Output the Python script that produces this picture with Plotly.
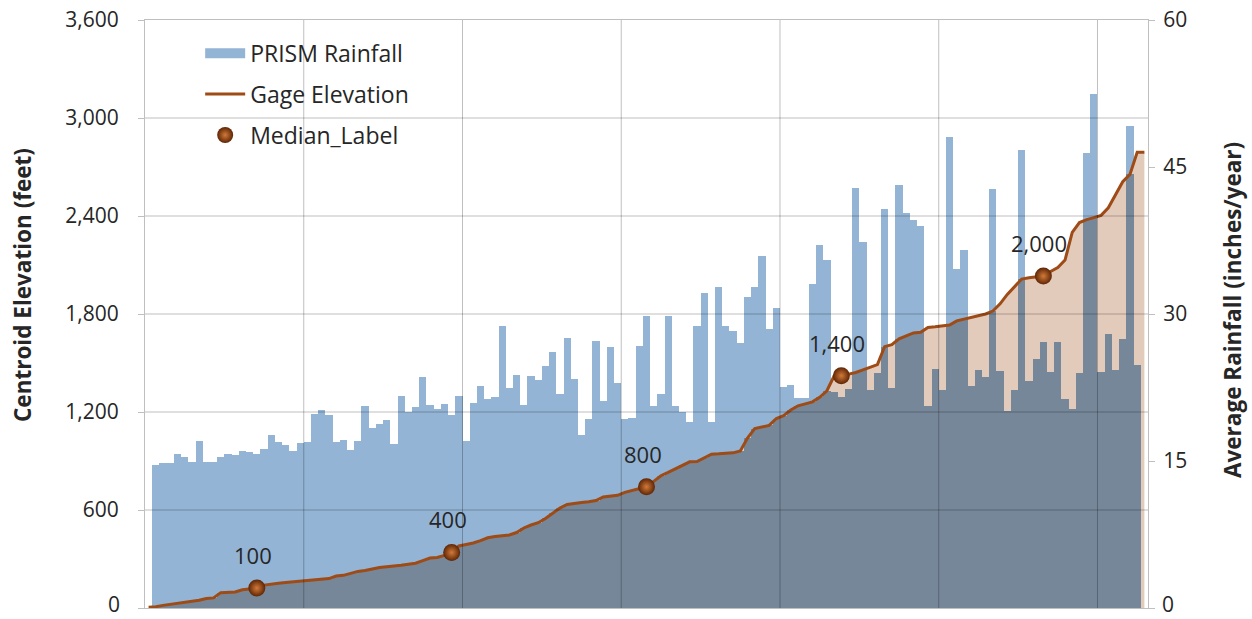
import plotly.graph_objects as go

# ---------------- data ----------------
RAIN = [None, 14.6, 14.8, 14.8, 15.7, 15.4, 14.9, 17.0, 14.9, 14.9, 15.4,
        15.7, 15.6, 16.0, 15.9, 15.7, 16.2, 17.7, 16.9, 16.6, 16.0,
        16.8, 16.9, 19.8, 20.2, 19.7, 16.9, 17.1, 16.1, 17.0, 20.6,
        18.4, 18.8, 19.2, 16.7, 21.6, 20.0, 20.5, 23.6, 20.7, 20.3,
        20.8, 19.7, 21.6, 17.0, 20.9, 22.7, 21.3, 21.5, 28.8, 22.4,
        23.8, 20.7, 23.7, 23.3, 24.7, 26.1, 21.8, 27.6, 23.4, 17.7,
        19.3, 27.2, 21.1, 26.6, 23.0, 19.3, 19.4, 26.7, 29.8, 20.6,
        21.8, 29.8, 20.6, 20.0, 19.0, 28.8, 32.1, 19.0, 32.8, 28.8,
        28.3, 27.0, 31.7, 32.8, 35.9, 28.5, 30.6, 22.6, 22.8, 21.4,
        21.4, 33.1, 37.0, 35.5, 22.0, 21.5, 22.3, 42.9, 37.3, 22.2,
        24.0, 40.7, 22.4, 43.2, 40.3, 39.6, 39.0, 20.6, 24.4, 22.2,
        48.1, 34.6, 36.5, 22.7, 24.3, 23.6, 42.8, 24.2, 20.1, 22.2,
        46.7, 23.2, 25.4, 27.1, 24.1, 27.1, 21.3, 20.3, 24.0, 46.4,
        52.5, 24.1, 28.0, 24.3, 27.4, 49.2, 24.8, None]

ELEV = [5, 8, 16, 22, 28, 36, 42, 48, 58, 62,
        94, 96, 98, 112, 116, 122, 140, 148, 152, 156,
        160, 165, 172, 176, 178, 180, 196, 200, 212, 224,
        230, 240, 248, 253, 256, 262, 268, 274, 290, 306,
        309, 322, 340, 380, 389, 398, 412, 430, 438, 442,
        447, 462, 490, 508, 522, 548, 582, 612, 634, 642,
        646, 650, 658, 680, 684, 690, 708, 720, 732, 742,
        775, 810, 830, 852, 878, 895, 897, 920, 942, 944,
        946, 950, 962, 1040, 1098, 1108, 1118, 1160, 1178, 1212,
        1238, 1250, 1262, 1290, 1330, 1420, 1422, 1432, 1442, 1458,
        1472, 1490, 1600, 1612, 1648, 1668, 1684, 1688, 1718, 1722,
        1726, 1732, 1758, 1768, 1776, 1786, 1800, 1818, 1862, 1920,
        1965, 2014, 2022, 2026, 2032, 2060, 2085, 2130, 2300, 2360,
        2378, 2390, 2404, 2450, 2530, 2610, 2655, 2790, 2790]

MEDIAN_CATS = [15, 42, 69, 96, 124]
MEDIAN_TEXT = ["100", "400", "800", "1,400", "2,000"]

ELEV_TICKS = [0, 600, 1200, 1800, 2400, 3000, 3600]
RAIN_TICKS = [0, 15, 30, 45, 60]
GRID_EVERY = 22

# ---------------- style ----------------
FONT = "Open Sans"
TXT = "#262626"
BLUE = "#93B4D4"
SLATE = "#76879A"
TAN = "#E3CBBC"
BROWN = "#9E4B16"
AXC = "#BFBFBF"
GRIDC = "rgba(0,0,0,0.25)"

N = len(RAIN)
CATS = list(range(N))
RAIN_MAX = RAIN_TICKS[-1]
ELEV_MAX = ELEV_TICKS[-1]
RATIO = ELEV_MAX / RAIN_MAX

# part of each rainfall bar lying under the elevation area
under = [None if r is None else min(r, e / RATIO) for r, e in zip(RAIN, ELEV)]

fig = go.Figure()
# legend-only entry giving the wide rectangular swatch of the original
fig.add_trace(go.Scatter(x=[None], y=[None], mode="lines", name="PRISM Rainfall",
                         line=dict(color=BLUE, width=11), yaxis="y",
                         legendgroup="a", hoverinfo="skip"))
fig.add_trace(go.Bar(x=CATS, y=RAIN, width=1, name="PRISM Rainfall",
                     marker=dict(color=BLUE, line=dict(width=0)),
                     yaxis="y", legendgroup="a", showlegend=False,
                     hoverinfo="skip"))
fig.add_trace(go.Scatter(x=CATS, y=ELEV, mode="none", fill="tozeroy",
                         fillcolor=TAN, yaxis="y2", showlegend=False,
                         hoverinfo="skip"))
fig.add_trace(go.Bar(x=CATS, y=under, width=1, showlegend=False,
                     marker=dict(color=SLATE, line=dict(width=0)),
                     yaxis="y3", hoverinfo="skip"))
fig.add_trace(go.Scatter(x=CATS, y=ELEV, mode="lines", name="Gage Elevation",
                         line=dict(color=BROWN, width=3),
                         yaxis="y4", legendgroup="b", hoverinfo="skip"))
fig.add_trace(go.Scatter(x=MEDIAN_CATS, y=[ELEV[c] for c in MEDIAN_CATS],
                         mode="markers", name="Median_Label",
                         marker=dict(size=17, color="#5E2504",
                                     gradient=dict(type="radial", color="#D27A3A"),
                                     line=dict(width=0)),
                         yaxis="y4", legendgroup="c", hoverinfo="skip"))

for c, t in zip(MEDIAN_CATS, MEDIAN_TEXT):
    fig.add_annotation(x=c, y=ELEV[c], xref="x", yref="y4", text=t,
                       showarrow=False, yshift=33, xshift=-4,
                       font=dict(family=FONT, size=22, color=TXT))

# gridlines drawn over the fills (they show through in the original)
for v in ELEV_TICKS[1:-1]:
    fig.add_shape(type="line", xref="paper", x0=0, x1=1, yref="y2", y0=v, y1=v,
                  line=dict(color=GRIDC, width=1), layer="above")
k = 1
while -0.5 + GRID_EVERY * k < N - 0.5:
    xv = -0.5 + GRID_EVERY * k
    fig.add_shape(type="line", xref="x", x0=xv, x1=xv, yref="paper", y0=0, y1=1,
                  line=dict(color=GRIDC, width=1), layer="above")
    k += 1

tickfont = dict(family=FONT, size=21, color=TXT)
elev_text = ["" if v == 0 else f"{v:,}" for v in ELEV_TICKS]
rain_text = ["" if v == 0 else f"{v}" for v in RAIN_TICKS]

# the two bottom "0" labels, nudged up a little so they stay inside the page
zero_labels = [
    dict(text=f"{ELEV_TICKS[0]}", xref="paper", yref="y2", x=0, y=ELEV_TICKS[0],
         xanchor="right", yanchor="middle", xshift=-23, yshift=4, showarrow=False,
         font=tickfont),
    dict(text=f"{RAIN_TICKS[0]}", xref="paper", yref="y", x=1, y=RAIN_TICKS[0],
         xanchor="left", yanchor="middle", xshift=12, yshift=4, showarrow=False,
         font=tickfont),
]

fig.update_layout(
    width=1252, height=619,
    margin=dict(l=145, r=104, t=20, b=11, autoexpand=False),
    plot_bgcolor="white", paper_bgcolor="white",
    bargap=0, barmode="overlay",
    showlegend=True,
    xaxis=dict(range=[-0.5, N - 0.5], showticklabels=False, showgrid=False,
               zeroline=False, showline=True, linecolor=AXC, linewidth=1,
               mirror=True, ticks="", automargin=False),
    yaxis=dict(side="right", range=[0, RAIN_MAX], tickvals=RAIN_TICKS,
               ticktext=rain_text,
               showgrid=False, zeroline=False, showline=True, linecolor=AXC,
               ticks="outside", ticklen=6, tickcolor=AXC, tickfont=tickfont,
               ticklabelstandoff=4, ticklabeloverflow="allow", automargin=False),
    yaxis2=dict(overlaying="y", side="left", range=[0, ELEV_MAX],
                tickvals=ELEV_TICKS, ticktext=elev_text, showgrid=False,
                zeroline=False, showline=True, linecolor=AXC,
                ticks="outside", ticklen=6, tickcolor=AXC, tickfont=tickfont,
                ticklabelstandoff=15, ticklabeloverflow="allow", automargin=False),
    yaxis3=dict(overlaying="y", range=[0, RAIN_MAX], visible=False),
    yaxis4=dict(overlaying="y", range=[0, ELEV_MAX], visible=False),
    legend=dict(x=0.055, y=0.980, xanchor="left", yanchor="top",
                bgcolor="rgba(0,0,0,0)", font=dict(family=FONT, size=23, color=TXT),
                tracegroupgap=8, itemwidth=40),
    annotations=list(fig.layout.annotations) + zero_labels + [
        dict(text="<b>Centroid Elevation (feet)</b>", xref="paper", yref="paper",
             x=(22 - 145) / 1003, y=(608 - 285) / 588, textangle=-90,
             showarrow=False, xanchor="center", yanchor="middle",
             font=dict(family=FONT, size=22.5, color=TXT)),
        dict(text="<b>Average Rainfall (inches/year)</b>", xref="paper", yref="paper",
             x=(1232 - 145) / 1003, y=(608 - 310) / 588, textangle=-90,
             showarrow=False, xanchor="center", yanchor="middle",
             font=dict(family=FONT, size=22.5, color=TXT)),
    ],
)

fig.write_html("out.html", config={"displayModeBar": False},
               post_script="document.body.style.margin='0';")
